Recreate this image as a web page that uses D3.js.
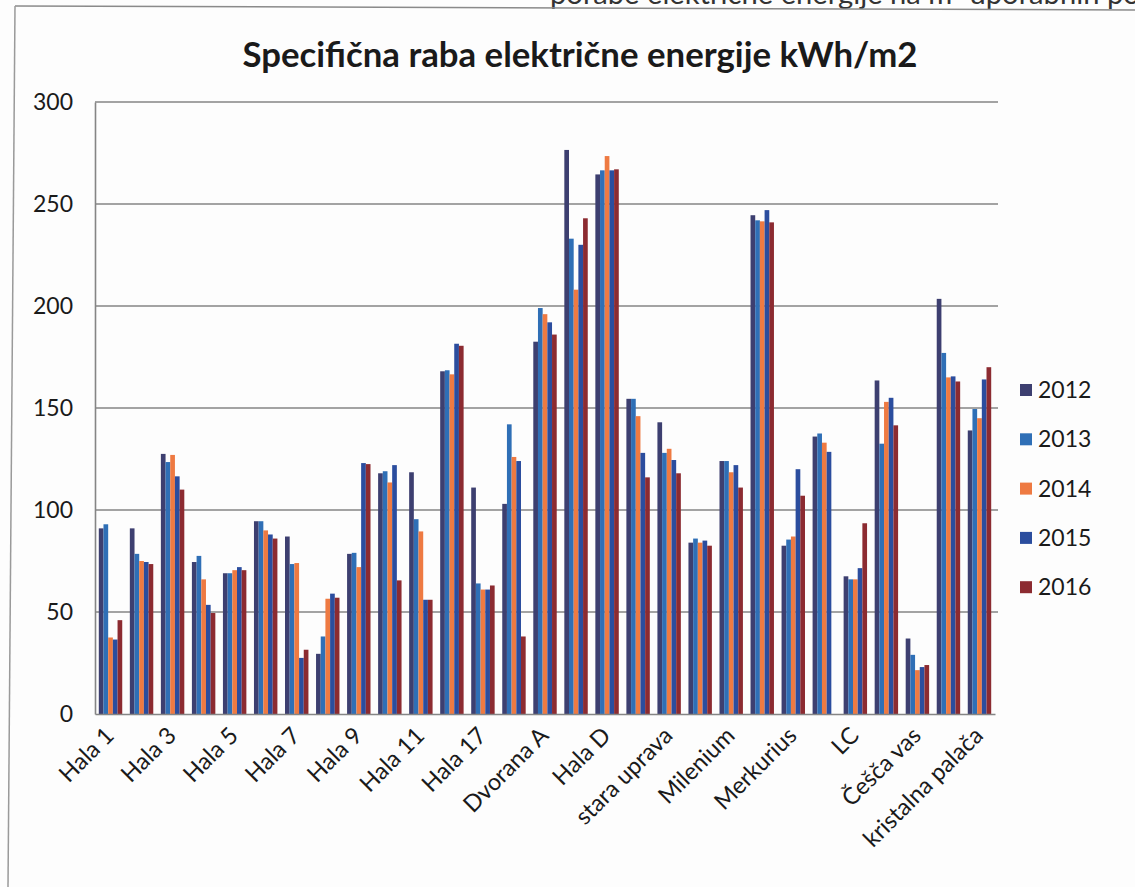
<!DOCTYPE html>
<html>
<head>
<meta charset="utf-8">
<script src="https://cdn.jsdelivr.net/npm/d3@7/dist/d3.min.js"></script>
<style>
  html, body { margin: 0; padding: 0; background: #fdfdfd; }
  svg { display: block; }
</style>
</head>
<body>
<svg id="chart" width="1135" height="887"></svg>
<script>
// ---------- data ----------
const categories = [
  "Hala 1", "Hala 2", "Hala 3", "Hala 4", "Hala 5", "Hala 6", "Hala 7", "Hala 8",
  "Hala 9", "Hala 10", "Hala 11", "Hala 12", "Hala 17", "Hala 18", "Dvorana A",
  "Dvorana B", "Hala D", "Hala E", "stara uprava", "nova uprava", "Milenium",
  "Mercator", "Merkurius", "Merkur", "LC", "LC 2", "Češča vas", "Češča vas 2",
  "kristalna palača"
];
const years = ["2012", "2013", "2014", "2015", "2016"];
const v2012 = [91, 91, 127.5, 74.5, 69, 94.5, 87, 29.5, 78.5, 118, 118.5, 168, 111, 103, 182.5,
               276.5, 264.5, 154.5, 143, 84, 124, 244.5, 82.5, 136, 67.5, 163.5, 37, 203.5, 139];
const v2013 = [93, 78.5, 123.5, 77.5, 69, 94.5, 73.5, 38, 79, 119, 95.5, 168.5, 64, 142, 199,
               233, 266.5, 154.5, 128, 86, 124, 242, 85.5, 137.5, 66, 132.5, 29, 177, 149.5];
const v2014 = [37.5, 75, 127, 66, 70.5, 90, 74, 56.5, 72, 113.5, 89.5, 166.5, 61, 126, 196,
               208, 273.5, 146, 130, 84, 118.5, 241.5, 87, 133, 66, 153, 21.5, 165, 145];
const v2015 = [36.5, 74.5, 116.5, 53.5, 72, 88, 27.5, 59, 123, 122, 56, 181.5, 61, 124, 192,
               230, 266.5, 128, 124.5, 85, 122, 247, 120, 128.5, 71.5, 155, 23, 165.5, 164];
const v2016 = [46, 73.5, 110, 49.5, 70.5, 86, 31.5, 57, 122.5, 65.5, 56, 180.5, 63, 38, 186,
               243, 267, 116, 118, 82.5, 111, 241, 107, 0, 93.5, 141.5, 24, 163, 170];
const yTicks = [0, 50, 100, 150, 200, 250, 300];
const titleText = "Specifična raba električne energije kWh/m2";
const topText = "porabe električne energije na m² uporabnih po";

const seriesValues = [v2012, v2013, v2014, v2015, v2016];
const colors = ["#3d3f70", "#2f6fb6", "#ee7a42", "#2b4d9e", "#8c2b31"];

// ---------- layout ----------
const svg = d3.select("#chart");
const plot = { left: 95, right: 995, top: 102, bottom: 714 };
const FONT = "Lato, 'Open Sans', sans-serif";

// page / frame decoration (text of the document above the chart, cut by the scan)
const tt = svg.append("text")
  .attr("x", 550).attr("y", 4)
  .attr("font-family", FONT)
  .attr("font-size", 26).attr("fill", "#333")
  .text(topText);
const ttw = tt.node().getComputedTextLength();
if (ttw > 0) tt.attr("font-size", 26 * 590 / ttw);

svg.append("line").attr("x1", 15).attr("y1", 6).attr("x2", 1135).attr("y2", 10)
  .attr("stroke", "#8a8a8a").attr("stroke-width", 1.5);
svg.append("line").attr("x1", 15).attr("y1", 6).attr("x2", 8).attr("y2", 887)
  .attr("stroke", "#9a9a9a").attr("stroke-width", 1.5);

// title
const title = svg.append("text")
  .attr("x", 580).attr("y", 67)
  .attr("text-anchor", "middle")
  .attr("font-family", FONT)
  .attr("font-weight", 700)
  .attr("font-size", 31)
  .attr("fill", "#1a1a1a")
  .text(titleText);
const tw = title.node().getComputedTextLength();
if (tw > 0) title.attr("font-size", 31 * 675 / tw);

// scales
const x0 = d3.scaleBand().domain(categories).range([plot.left, plot.right])
  .paddingInner(0.245).paddingOuter(0.1225);
const x1 = d3.scaleBand().domain(years).range([0, x0.bandwidth()]).padding(0);
const y = d3.scaleLinear().domain([0, 300]).range([plot.bottom, plot.top]);

// gridlines
svg.append("g").selectAll("line").data(yTicks.filter(d => d > 0)).join("line")
  .attr("x1", plot.left).attr("x2", plot.right + 3)
  .attr("y1", d => y(d)).attr("y2", d => y(d))
  .attr("stroke", "#858585").attr("stroke-width", 1.6);

// y axis
const yAxis = svg.append("g")
  .attr("transform", `translate(${plot.left},0)`)
  .call(d3.axisLeft(y).tickValues(yTicks).tickSize(0).tickPadding(22));
yAxis.select(".domain").attr("stroke", "#858585").attr("stroke-width", 1.6);
yAxis.selectAll("text")
  .attr("font-family", FONT)
  .attr("font-size", 23).attr("fill", "#1a1a1a");

// bars
const rows = categories.map((c, i) => ({ cat: c, vals: years.map((yr, k) => ({ yr, k, v: seriesValues[k][i] })) }));
const groups = svg.append("g").selectAll("g").data(rows).join("g")
  .attr("transform", d => `translate(${x0(d.cat)},0)`);
groups.selectAll("rect").data(d => d.vals.filter(e => e.v > 0)).join("rect")
  .attr("x", d => x1(d.yr))
  .attr("width", x1.bandwidth())
  .attr("y", d => y(d.v))
  .attr("height", d => y(0) - y(d.v))
  .attr("fill", d => colors[d.k]);

// x axis
const xAxis = svg.append("g")
  .attr("transform", `translate(0,${plot.bottom})`)
  .call(d3.axisBottom(x0).tickValues(categories.filter((c, i) => i % 2 === 0)).tickSize(0).tickPadding(0));
xAxis.select(".domain").attr("stroke", "#858585").attr("stroke-width", 1.6);
xAxis.selectAll("text")
  .attr("font-family", FONT)
  .attr("font-size", 23.5).attr("fill", "#1a1a1a")
  .attr("text-anchor", "end")
  .attr("dy", 0)
  .attr("y", 0)
  .attr("transform", "translate(5,23) rotate(-45)");

// legend
const legend = svg.append("g").selectAll("g").data(years).join("g")
  .attr("transform", (d, i) => `translate(1020,${390 + i * 49.3})`);
legend.append("rect").attr("x", 0).attr("y", -6).attr("width", 12).attr("height", 12)
  .attr("fill", (d, i) => colors[i]);
legend.append("text").attr("x", 18).attr("y", 0).attr("dy", "0.35em")
  .attr("font-family", FONT)
  .attr("font-size", 23).attr("fill", "#1a1a1a")
  .text(d => d);
</script>
</body>
</html>
